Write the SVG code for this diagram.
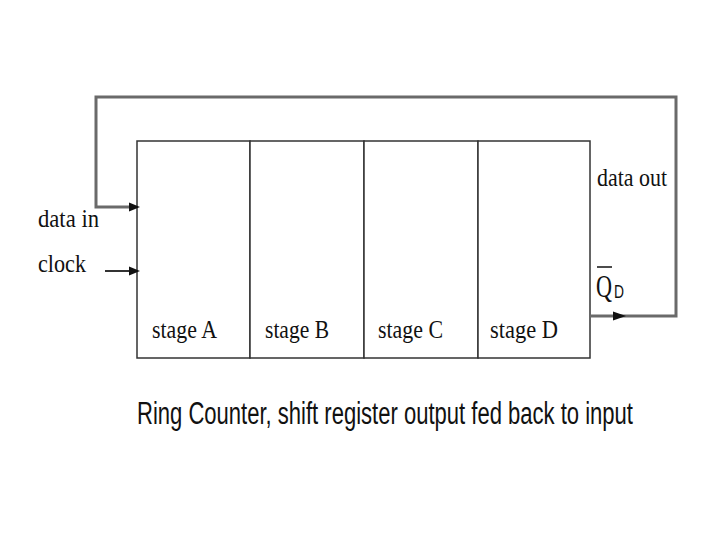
<svg xmlns="http://www.w3.org/2000/svg" width="720" height="540" viewBox="0 0 720 540">
<style>
.box{fill:#fff;stroke:#333;stroke-width:1.5}
.wire{fill:none;stroke:#6a6a6a;stroke-width:3}
.thin{fill:none;stroke:#333;stroke-width:2}
.lbl{font-family:"Liberation Serif","Times New Roman",serif;font-size:25px;fill:#111}
.cap{font-family:"Liberation Sans",Arial,sans-serif;font-size:31px;fill:#111}
.head{fill:#111}
</style>
<rect width="720" height="540" fill="#fff"/>
<g id="register">
<g id="stageA"><rect class="box" x="137" y="141" width="113" height="217"/><text class="lbl" x="152" y="338" textLength="65" lengthAdjust="spacingAndGlyphs">stage A</text></g>
<g id="stageB"><rect class="box" x="250" y="141" width="114" height="217"/><text class="lbl" x="265" y="338" textLength="64" lengthAdjust="spacingAndGlyphs">stage B</text></g>
<g id="stageC"><rect class="box" x="364" y="141" width="114" height="217"/><text class="lbl" x="378" y="338" textLength="65" lengthAdjust="spacingAndGlyphs">stage C</text></g>
<g id="stageD"><rect class="box" x="478" y="141" width="112" height="217"/><text class="lbl" x="490" y="338" textLength="68" lengthAdjust="spacingAndGlyphs">stage D</text></g>
</g>
<g id="connectors">
<polyline class="wire" points="590,316 676,316 676,97 96,97 96,207 133,207"/>
<path class="head" d="M140,207 L129,202.5 L129,211.5 Z"/>
<line class="thin" x1="105" y1="271" x2="132" y2="271"/>
<path class="head" d="M140,271 L129,266.5 L129,275.5 Z"/>
<path class="head" d="M626,316 L613,311.5 L613,320.5 Z"/>
</g>
<g id="labels">
<text class="lbl" x="38" y="227" textLength="61" lengthAdjust="spacingAndGlyphs">data in</text>
<text class="lbl" x="38" y="272" textLength="48" lengthAdjust="spacingAndGlyphs">clock</text>
<text class="lbl" x="597" y="186" textLength="70" lengthAdjust="spacingAndGlyphs">data out</text>
<text x="596" y="297" font-family="Liberation Serif,serif" font-size="32" fill="#111" textLength="16" lengthAdjust="spacingAndGlyphs">Q</text>
<line x1="597" y1="267" x2="612" y2="267" stroke="#111" stroke-width="1.5"/>
<text x="614" y="298" font-family="Liberation Sans,sans-serif" font-size="18" fill="#111" textLength="10" lengthAdjust="spacingAndGlyphs">D</text>
<text class="cap" x="137" y="424" textLength="496" lengthAdjust="spacingAndGlyphs">Ring Counter, shift register output fed back to input</text>
</g>
</svg>
